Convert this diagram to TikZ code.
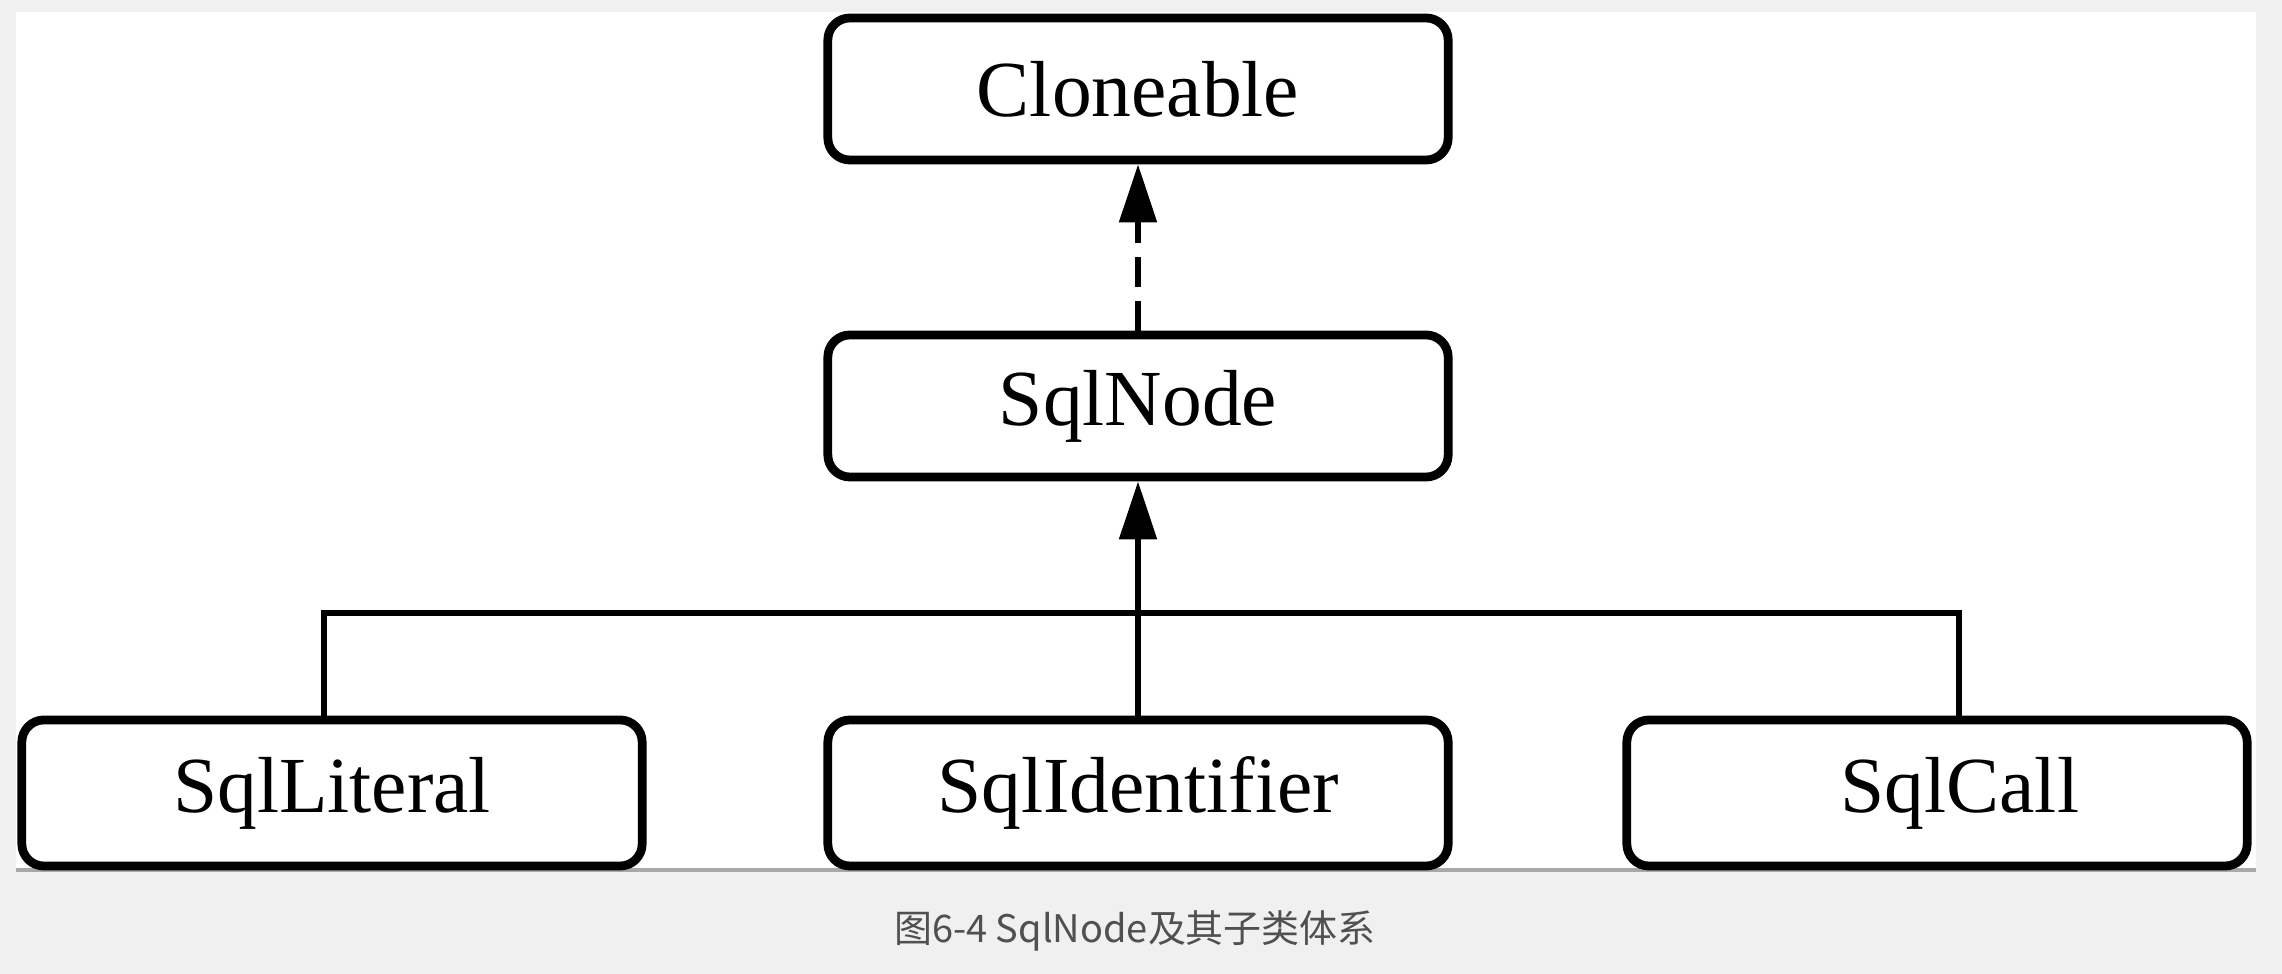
\documentclass[tikz,border=0pt]{standalone}
\usepackage{fontspec}
\setmainfont{Liberation Serif}
\newfontfamily\cjk{Noto Sans CJK SC}
\usetikzlibrary{arrows.meta}
\definecolor{bggray}{HTML}{F0F0F0}
\definecolor{rulegray}{HTML}{A8A8A8}
\definecolor{capgray}{HTML}{505050}
\begin{document}
\begin{tikzpicture}[x=0.01cm,y=-0.01cm,
  classbox/.style={draw=black, line width=2.5pt, rounded corners=6.3pt, fill=white,
    minimum width=6.2cm, minimum height=1.42cm, inner sep=0pt,
    font=\fontsize{22.6}{26}\selectfont},
  tallbox/.style={minimum height=1.46cm},
  conn/.style={draw=black, line width=1.6pt},
  tip/.style={-{Triangle[length=16.5pt,width=10.5pt]}}]
\useasboundingbox (0,0) rectangle (2282,974);
\fill[bggray] (0,0) rectangle (2282,974);
\fill[white] (16,12) rectangle (2256,870);
\draw[rulegray, line width=1pt] (16,870) -- (2256,870);

\node[classbox] (clone) at (1138,89) {Cloneable};
\node[classbox] (sqlnode) at (1138,406) {SqlNode};
\node[classbox, tallbox] (lit) at (332,793) {SqlLiteral};
\node[classbox, tallbox] (ident) at (1138,793) {SqlIdentifier};
\node[classbox, tallbox] (call) at (1937,793) {\hspace*{13pt}SqlCall};

\coordinate (busL) at (324,613);
\coordinate (busR) at (1959,613);
\draw[conn] (lit.north -| busL) -- (busL) -- (busR) -- (call.north -| busR);
\draw[conn, tip] (ident.north) -- (sqlnode.south);
\draw[conn, tip, dash pattern=on 8.5pt off 4pt] (sqlnode.north) -- (clone.south);

\node[text=capgray, font=\cjk\fontsize{10.8}{13}\selectfont] (caption) at (1135,931) {图6-4 SqlNode及其子类体系};
\end{tikzpicture}
\end{document}
